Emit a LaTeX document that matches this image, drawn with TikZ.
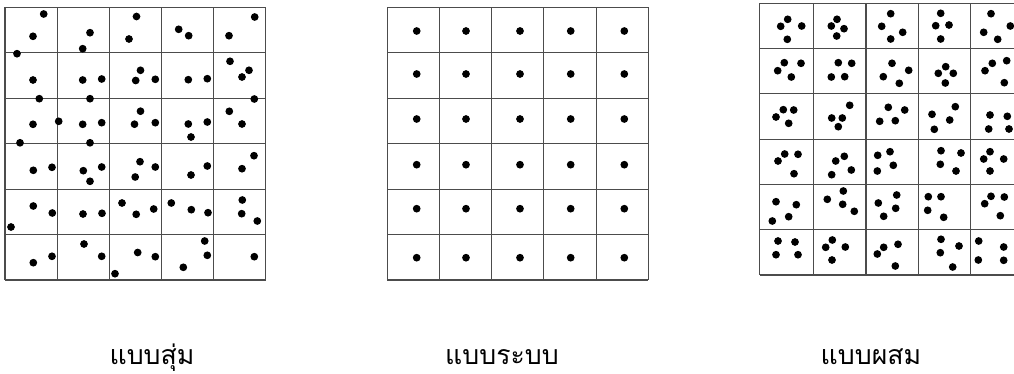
\documentclass[tikz,border=0pt]{standalone}
\usepackage{fontspec}
\newfontfamily\thaifont[Script=Thai]{Loma}
\begin{document}
\begin{tikzpicture}[x=0.75pt,y=-0.75pt,
  gridline/.style={draw=black!70,line width=0.8pt},
  dotmark/.style={fill=black},
  caption/.style={font=\thaifont\fontsize{20}{24}\selectfont,anchor=base,inner sep=0pt,text depth=0pt}]
\useasboundingbox (0,0) rectangle (1014,374);
\clip (0,0) rectangle (1014,374);
% ---------- left grid (random) ----------
\foreach \i in {0,...,5} \draw[gridline] ({5+\i*52.1},7.3) -- ({5+\i*52.1},280);
\foreach \j in {0,...,6} \draw[gridline] (5,{7.3+\j*45.45}) -- (265.5,{7.3+\j*45.45});
\foreach \p in {
 (43.7,14),(33,36.3),(17,53.7),(90,32.7),(82.7,48.7),(136.5,16.5),(129,39),
 (178.7,29.3),(188.7,35.7),(229,35.7),(254.7,17),
 (33,80),(82.7,80),(101.7,79),(140.5,70.3),(135.7,80.5),(155.3,79.3),
 (188.3,79.7),(207.3,78.7),(230,61.3),(249,70.3),(242,77),
 (39.3,98.7),(90,98.7),(33,124.3),(58.7,121.3),(82.7,124.3),(101.7,122.7),
 (140.5,111.2),(134.5,124.2),(155.3,122.7),(188.3,124),(207.3,122),(191,137),
 (254.3,99),(229.3,111.3),(242,124),
 (20,142.8),(90,142.8),(33.3,170.3),(52,167.3),(83.3,170.7),(101.7,167),(90,181.3),
 (140,161.7),(135.2,177),(155.3,167),(191,175),(207.3,166),(242,168.7),(254,155.7),
 (33.3,206),(52.3,213),(11,227),(83,214),(102,213.3),(122,203),(136.2,214.3),(153.7,209),
 (171.3,203),(191.3,209.7),(208,212.7),(242.3,200),(241.7,213.7),(257.3,221),
 (33.3,262.7),(52,256.3),(84,244),(101.7,256.3),(115,273.7),(137.7,252.5),(155.3,256.7),
 (204.7,241),(207.3,255.3),(183.3,267.3),(254.3,256.7)}
  \fill[dotmark] \p circle (2.9pt);
% ---------- middle grid (systematic) ----------
\foreach \i in {0,...,5} \draw[gridline] ({387.3+\i*52.2},7.3) -- ({387.3+\i*52.2},280);
\foreach \j in {0,...,6} \draw[gridline] (387.3,{7.3+\j*45.45}) -- (648.3,{7.3+\j*45.45});
\foreach \x in {416.7,466,520,570.7,624.3}
  \foreach \y in {31,74,119,164.7,208.7,257.7}
    \fill[dotmark] (\x,\y) circle (2.9pt);
% ---------- right grid (mixed) ----------
\foreach \x in {759.7,813.7,866,918.3,970.7,1023} \draw[gridline] (\x,3.3) -- (\x,275);
\foreach \j in {0,...,6} \draw[gridline] (759.7,{3.3+\j*45.28}) -- (1023,{3.3+\j*45.28});
\foreach \p in {
 (787.7,19.3),(780.7,26.3),(801.7,26),(787.3,39.3),
 (837,19.3),(831.3,26),(844,28.7),(836.7,36),
 (890.7,13.7),(881.7,26.3),(902.7,32.3),(890.7,39),
 (940.7,13.3),(935.7,25.7),(949,25),(940.7,39),
 (991,13.7),(1010.3,26),(983.7,32.3),(997.7,39.3),
 (784.3,62.7),(801,63.3),(777.7,70.7),(791.3,77),
 (838.3,62.7),(851.7,63.3),(831.3,77),(844.7,76.7),
 (892,63.3),(908.7,70.3),(883.3,76.7),(899.3,83.3),
 (945.7,66.7),(938.3,73.3),(953.3,73.3),(945.3,83),
 (1006.7,60.7),(992.3,63.3),(985,70.7),(1004.3,82.7),
 (783.3,109.7),(793.7,110),(776,117),(788.7,123.3),
 (849.7,105.3),(831.7,118),(842.3,118),(838.3,126.7),
 (888.3,107.3),(904.7,110),(879.7,121.3),(895.3,120.7),
 (955.3,106.7),(932,114.3),(949.7,120),(934.3,129.3),
 (990,115),(1007.3,116.3),(988.7,129),(1009,129),
 (784.7,154),(798,154.3),(778,161),(794,173.7),
 (844.3,156.3),(835.7,161),(851.3,170),(831.7,174.7),
 (890,151.7),(877.7,155.3),(893.3,165.3),(877.3,171),
 (941,150.7),(961,153),(940.3,164.3),(956,171),
 (990,151.7),(983.7,159),(1003.7,159),(990,171),
 (776,201.7),(796.3,204.7),(772.3,221),(788.7,216.7),
 (843.3,191),(827.3,199.3),(842.7,204.3),(854.3,211.3),
 (896.7,195),(878.3,203),(895.7,208.3),(883.7,216.3),
 (928.3,196.7),(941,196.7),(927.7,210.3),(943.7,217.3),
 (991,196.3),(1004.3,197),(984.7,203.7),(1000.3,215.7),
 (778,241),(795,242),(776,254.7),(798,254.7),
 (832.3,240),(825.7,247.3),(845.3,247),(832,260),
 (883.7,247.3),(898,244.3),(877.3,254),(895.3,266),
 (941,239.3),(959,246),(940.3,252.7),(952.7,267),
 (978.7,241),(1003.7,247),(978.3,260),(1003.7,260.3)}
  \fill[dotmark] \p circle (2.9pt);
% ---------- captions ----------
\node[caption] (lrandom) at (152,364) {แบบสุ่ม};
\node[caption] (lsystem) at (502,364) {แบบระบบ};
\node[caption] (lmixed) at (871,364) {แบบผสม};
\end{tikzpicture}
\end{document}
